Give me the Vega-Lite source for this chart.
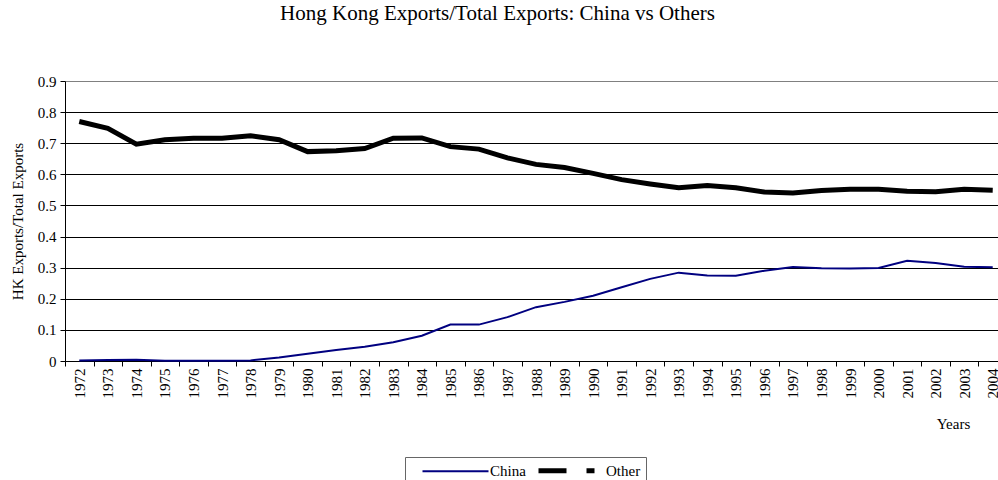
{
  "$schema": "https://vega.github.io/schema/vega-lite/v6.json",
  "width": 933,
  "height": 280,
  "autosize": {"type": "none"},
  "padding": {"left": 65, "top": 81, "right": 0, "bottom": 119},
  "background": "white",
  "title": {
    "text": "Hong Kong Exports/Total Exports: China vs Others",
    "font": "Liberation Serif",
    "fontSize": 21,
    "fontWeight": "normal",
    "color": "black",
    "anchor": "middle",
    "dx": -34,
    "offset": 50
  },
  "config": {
    "view": {"stroke": null},
    "axis": {
      "labelFont": "Liberation Serif",
      "titleFont": "Liberation Serif",
      "labelColor": "black",
      "titleColor": "black",
      "labelFontSize": 15,
      "titleFontSize": 15,
      "titleFontWeight": "normal",
      "domainColor": "black",
      "tickColor": "black",
      "tickSize": 5
    }
  },
  "data": {
    "values": [
      {"year": "1972", "series": "China", "value": 0.002},
      {"year": "1973", "series": "China", "value": 0.003},
      {"year": "1974", "series": "China", "value": 0.004},
      {"year": "1975", "series": "China", "value": 0.001},
      {"year": "1976", "series": "China", "value": 0.001},
      {"year": "1977", "series": "China", "value": 0.001},
      {"year": "1978", "series": "China", "value": 0.002},
      {"year": "1979", "series": "China", "value": 0.011},
      {"year": "1980", "series": "China", "value": 0.023},
      {"year": "1981", "series": "China", "value": 0.035},
      {"year": "1982", "series": "China", "value": 0.046},
      {"year": "1983", "series": "China", "value": 0.06},
      {"year": "1984", "series": "China", "value": 0.081},
      {"year": "1985", "series": "China", "value": 0.117},
      {"year": "1986", "series": "China", "value": 0.117},
      {"year": "1987", "series": "China", "value": 0.141},
      {"year": "1988", "series": "China", "value": 0.173},
      {"year": "1989", "series": "China", "value": 0.19},
      {"year": "1990", "series": "China", "value": 0.21},
      {"year": "1991", "series": "China", "value": 0.237},
      {"year": "1992", "series": "China", "value": 0.264},
      {"year": "1993", "series": "China", "value": 0.284},
      {"year": "1994", "series": "China", "value": 0.275},
      {"year": "1995", "series": "China", "value": 0.274},
      {"year": "1996", "series": "China", "value": 0.29},
      {"year": "1997", "series": "China", "value": 0.302},
      {"year": "1998", "series": "China", "value": 0.298},
      {"year": "1999", "series": "China", "value": 0.297},
      {"year": "2000", "series": "China", "value": 0.299},
      {"year": "2001", "series": "China", "value": 0.322},
      {"year": "2002", "series": "China", "value": 0.315},
      {"year": "2003", "series": "China", "value": 0.303},
      {"year": "2004", "series": "China", "value": 0.301},
      {"year": "1972", "series": "Other", "value": 0.77},
      {"year": "1973", "series": "Other", "value": 0.748},
      {"year": "1974", "series": "Other", "value": 0.697},
      {"year": "1975", "series": "Other", "value": 0.711},
      {"year": "1976", "series": "Other", "value": 0.716},
      {"year": "1977", "series": "Other", "value": 0.716},
      {"year": "1978", "series": "Other", "value": 0.724},
      {"year": "1979", "series": "Other", "value": 0.711},
      {"year": "1980", "series": "Other", "value": 0.673},
      {"year": "1981", "series": "Other", "value": 0.676},
      {"year": "1982", "series": "Other", "value": 0.683},
      {"year": "1983", "series": "Other", "value": 0.716},
      {"year": "1984", "series": "Other", "value": 0.717},
      {"year": "1985", "series": "Other", "value": 0.689},
      {"year": "1986", "series": "Other", "value": 0.681},
      {"year": "1987", "series": "Other", "value": 0.653},
      {"year": "1988", "series": "Other", "value": 0.632},
      {"year": "1989", "series": "Other", "value": 0.622},
      {"year": "1990", "series": "Other", "value": 0.603},
      {"year": "1991", "series": "Other", "value": 0.583},
      {"year": "1992", "series": "Other", "value": 0.569},
      {"year": "1993", "series": "Other", "value": 0.557},
      {"year": "1994", "series": "Other", "value": 0.564},
      {"year": "1995", "series": "Other", "value": 0.557},
      {"year": "1996", "series": "Other", "value": 0.543},
      {"year": "1997", "series": "Other", "value": 0.54},
      {"year": "1998", "series": "Other", "value": 0.548},
      {"year": "1999", "series": "Other", "value": 0.552},
      {"year": "2000", "series": "Other", "value": 0.552},
      {"year": "2001", "series": "Other", "value": 0.546},
      {"year": "2002", "series": "Other", "value": 0.544},
      {"year": "2003", "series": "Other", "value": 0.552},
      {"year": "2004", "series": "Other", "value": 0.549}
    ]
  },
  "mark": {"type": "line", "strokeJoin": "miter", "strokeCap": "butt"},
  "encoding": {
    "x": {
      "field": "year",
      "type": "ordinal",
      "scale": {"type": "band", "range": [0, 942], "paddingInner": 0, "paddingOuter": 0},
      "axis": {
        "title": "Years",
        "labelAngle": 270,
        "labelPadding": 2,
        "tickBand": "extent",
        "grid": false,
        "titleX": 888,
        "titleY": 62,
        "titleAlign": "center",
        "titleBaseline": "middle"
      }
    },
    "y": {
      "field": "value",
      "type": "quantitative",
      "scale": {"domain": [0, 0.9], "nice": false},
      "axis": {
        "title": "HK Exports/Total Exports",
        "values": [0, 0.1, 0.2, 0.3, 0.4, 0.5, 0.6, 0.7, 0.8, 0.9],
        "format": ".1~f",
        "labelPadding": 4,
        "titlePadding": 12,
        "grid": true,
        "gridColor": {"condition": {"test": "datum.value >= 0.89", "value": "#808080"}, "value": "black"},
        "gridOpacity": 1,
        "gridWidth": 1
      }
    },
    "color": {
      "field": "series",
      "type": "nominal",
      "scale": {"domain": ["China", "Other"], "range": ["#000080", "black"]},
      "legend": {
        "title": null,
        "orient": "none",
        "legendX": 340,
        "legendY": 376,
        "direction": "horizontal",
        "columns": 2,
        "symbolType": "M-5.5,0H5.5",
        "symbolSize": 144,
        "symbolOffset": 37,
        "symbolFillColor": "transparent",
        "labelFont": "Liberation Serif",
        "labelFontSize": 15,
        "labelColor": "black",
        "labelOffset": 26,
        "columnPadding": -3,
        "padding": 5,
        "strokeColor": "#666666",
        "fillColor": "white",
        "encode": {
          "symbols": {
            "update": {
              "strokeWidth": {"signal": "datum.value === 'Other' ? 5 : 2"},
              "strokeDash": {"signal": "datum.value === 'Other' ? [28, 20, 8, 20] : []"}
            }
          }
        }
      }
    },
    "strokeWidth": {
      "field": "series",
      "type": "nominal",
      "scale": {"domain": ["China", "Other"], "range": [2, 5]},
      "legend": null
    }
  }
}
